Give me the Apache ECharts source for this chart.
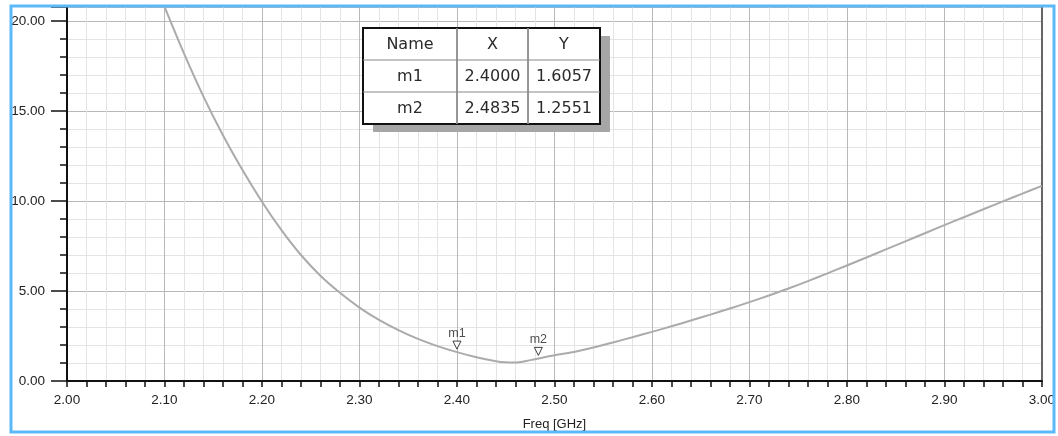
<!DOCTYPE html>
<html>
<head>
<meta charset="utf-8">
<script src="https://cdn.jsdelivr.net/npm/echarts@6/dist/echarts.min.js"></script>
<style>
html,body{margin:0;padding:0;background:#fff;}
#c{width:1058px;height:436px;}
</style>
</head>
<body>
<div id="c"></div>
<script>
// Frequencies (GHz) and curve values
const freqs = [2.10,2.12,2.14,2.16,2.18,2.20,2.22,2.24,2.26,2.28,2.30,2.32,2.34,2.36,2.38,2.40,2.42,2.44,2.45,2.46,2.47,2.48,2.50,2.52,2.54,2.56,2.58,2.60,2.62,2.64,2.66,2.68,2.70,2.72,2.74,2.76,2.78,2.80,2.82,2.84,2.86,2.88,2.90,2.92,2.94,2.96,2.98,3.00];
const values = [20.8,18.2,15.8,13.65,11.72,9.96,8.38,7.0,5.85,4.9,4.08,3.4,2.83,2.34,1.94,1.6057,1.32,1.10,1.04,1.03,1.10,1.21,1.43,1.61,1.86,2.14,2.43,2.73,3.04,3.36,3.69,4.03,4.38,4.75,5.14,5.55,5.98,6.42,6.86,7.31,7.76,8.21,8.66,9.10,9.54,9.98,10.41,10.84];

// Markers
const markerNames = ['m1','m2'];
const markerX = [2.4000, 2.4835];
const markerY = [1.6057, 1.2551];

// Table
const tableHeader = ['Name','X','Y'];

const FONT = "'Liberation Sans',Arial,sans-serif";
const chart = echarts.init(document.getElementById('c'));

const colW = [94, 71, 72];
const rowH = 32;
const tx = 363, ty = 28;
const tableChildren = [];
const totalW = colW.reduce((a,b)=>a+b,0);
const totalH = rowH*3;
tableChildren.push({type:'rect', shape:{x:tx+10,y:ty+8,width:totalW,height:totalH}, style:{fill:'#a6a6a6'}, z:10});
tableChildren.push({type:'rect', shape:{x:tx,y:ty,width:totalW,height:totalH}, style:{fill:'#fff',stroke:'#111',lineWidth:2}, z:11});
const rows = [tableHeader].concat(markerNames.map((n,i)=>[n, markerX[i].toFixed(4), markerY[i].toFixed(4)]));
rows.forEach((r,ri)=>{
  let x = tx;
  r.forEach((cell,ci)=>{
    tableChildren.push({type:'text', x:x+colW[ci]/2, y:ty+ri*rowH+rowH/2+1, style:{text:cell, fill:'#2a2a2a', font:"16px 'DejaVu Sans',sans-serif", align:'center', verticalAlign:'middle'}, z:13});
    x += colW[ci];
    if (ci < r.length-1) {
      tableChildren.push({type:'line', shape:{x1:x,y1:ty,x2:x,y2:ty+totalH}, style:{stroke:'#888',lineWidth:1}, z:12});
    }
  });
  if (ri>0) tableChildren.push({type:'line', shape:{x1:tx,y1:ty+ri*rowH,x2:tx+totalW,y2:ty+ri*rowH}, style:{stroke:'#888',lineWidth:1}, z:12});
});

const option = {
  backgroundColor:'#fff',
  animation:false,
  grid:{left:67,right:15,top:7,bottom:55},
  xAxis:{
    type:'value', min:2, max:3, interval:0.1,
    name:'Freq [GHz]', nameLocation:'middle', nameGap:37,
    nameTextStyle:{fontFamily:FONT,fontSize:13,color:'#222'},
    axisLine:{show:true,onZero:false,lineStyle:{color:'#111',width:2}},
    axisTick:{show:true,length:6,inside:false,lineStyle:{color:'#111',width:1.5}},
    minorTick:{show:true,splitNumber:5,length:6,lineStyle:{color:'#111',width:1.5}},
    axisLabel:{formatter:v=>v.toFixed(2),fontFamily:FONT,fontSize:13.5,color:'#222',margin:12},
    splitLine:{show:true,lineStyle:{color:'#b8b8b8',width:1}},
    minorSplitLine:{show:true,lineStyle:{color:'#e4e4e4',width:1}}
  },
  yAxis:[{
    type:'value', min:0, max:20.78, interval:5,
    axisLine:{show:true,lineStyle:{color:'#111',width:2}},
    axisTick:{show:true,length:16,lineStyle:{color:'#111',width:1.5}},
    minorTick:{show:true,splitNumber:5,length:7,lineStyle:{color:'#111',width:1.5}},
    axisLabel:{formatter:v=>v.toFixed(2),fontFamily:FONT,fontSize:13.5,color:'#222',margin:22,showMaxLabel:false},
    splitLine:{show:true,lineStyle:{color:'#b8b8b8',width:1}},
    minorSplitLine:{show:true,lineStyle:{color:'#e4e4e4',width:1}}
  },{
    type:'value', min:0, max:20.78, position:'right',
    axisLine:{show:true,lineStyle:{color:'#666',width:2}},
    axisTick:{show:false}, axisLabel:{show:false}, splitLine:{show:false}
  }],
  series:[{
    type:'line', data:freqs.map((f,i)=>[f,values[i]]), smooth:0.3, showSymbol:false,
    lineStyle:{color:'#ababab',width:2}, z:3
  },{
    type:'scatter', data:markerNames.map((n,i)=>({name:n,value:[markerX[i],markerY[i]]})),
    symbol:'triangle', symbolRotate:180, symbolSize:8, symbolOffset:[0,-7],
    itemStyle:{color:'#fff',borderColor:'#111',borderWidth:1},
    label:{show:true,formatter:p=>p.name,position:'top',distance:1,fontFamily:FONT,fontSize:12.5,color:'#222'},
    z:5
  }],
  graphic:[
    {type:'group', children:tableChildren},
    {type:'rect', shape:{x:11,y:6,width:1043,height:426}, style:{fill:'none',stroke:'#5cb9f7',lineWidth:3}, z:20}
  ]
};
chart.setOption(option);
</script>
</body>
</html>
